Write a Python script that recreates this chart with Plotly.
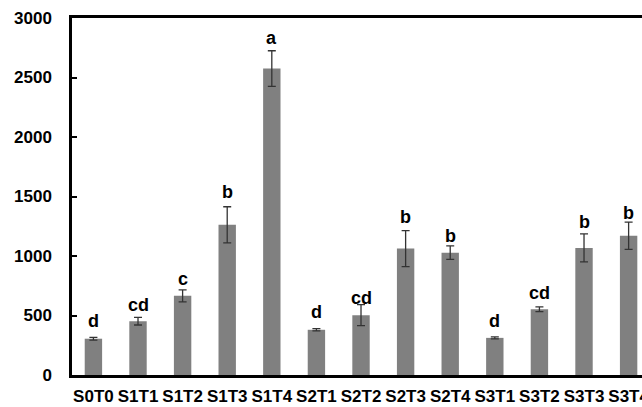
import plotly.graph_objects as go

categories = ["S0T0", "S1T1", "S1T2", "S1T3", "S1T4", "S2T1", "S2T2",
              "S2T3", "S2T4", "S3T1", "S3T2", "S3T3", "S3T4"]
values = [305, 452, 665, 1262, 2575, 380, 503, 1062, 1028, 312, 552, 1068, 1170]
errors = [12, 32, 50, 152, 150, 9, 88, 152, 57, 8, 20, 118, 115]
letters = ["d", "cd", "c", "b", "a", "d", "cd", "b", "b", "d", "cd", "b", "b"]
letter_y = [452, 590, 808, 1536, 2836, 528, 645, 1326, 1172, 452, 691, 1284, 1363]
y_ticks = [0, 500, 1000, 1500, 2000, 2500, 3000]

FONT = "Liberation Sans, Arial, sans-serif"

fig = go.Figure()
fig.add_trace(go.Bar(
    x=categories, y=values, width=0.39,
    marker=dict(color="#808080", line=dict(width=0)),
    error_y=dict(type="data", array=errors, visible=True,
                 color="#333333", thickness=1.3, width=4),
))

for c, t, ly in zip(categories, letters, letter_y):
    fig.add_annotation(x=c, y=ly, text=t, showarrow=False,
                       xanchor="center", yanchor="middle",
                       font=dict(family=FONT, size=18, color="#000000",
                                 weight="bold"))

fig.update_layout(
    width=642, height=407,
    margin=dict(l=72, r=0, t=18, b=32, autoexpand=False),
    paper_bgcolor="white", plot_bgcolor="white",
    showlegend=False,
    font=dict(family=FONT, color="#000000"),
)
fig.update_xaxes(
    type="category", range=[-0.48, 12.3], automargin=False,
    showline=True, linecolor="#000000", linewidth=2.5, mirror=True,
    ticks="", showgrid=False, tickangle=0, ticklabeloverflow="allow",
    ticklabelstandoff=4,
    tickfont=dict(family=FONT, size=17, color="#000000", weight="bold"),
)
fig.update_yaxes(
    range=[0, 3000], tickvals=y_ticks, automargin=False,
    showline=True, linecolor="#000000", linewidth=2.5, mirror=False,
    ticks="inside", ticklen=5, tickwidth=2, tickcolor="#000000",
    showgrid=False, zeroline=False,
    ticklabelstandoff=14,
    tickfont=dict(family=FONT, size=17, color="#000000", weight="bold"),
)

fig.write_html("out.html", config={"displayModeBar": False},
               post_script="document.body.style.margin='0';document.body.style.overflow='hidden';")
